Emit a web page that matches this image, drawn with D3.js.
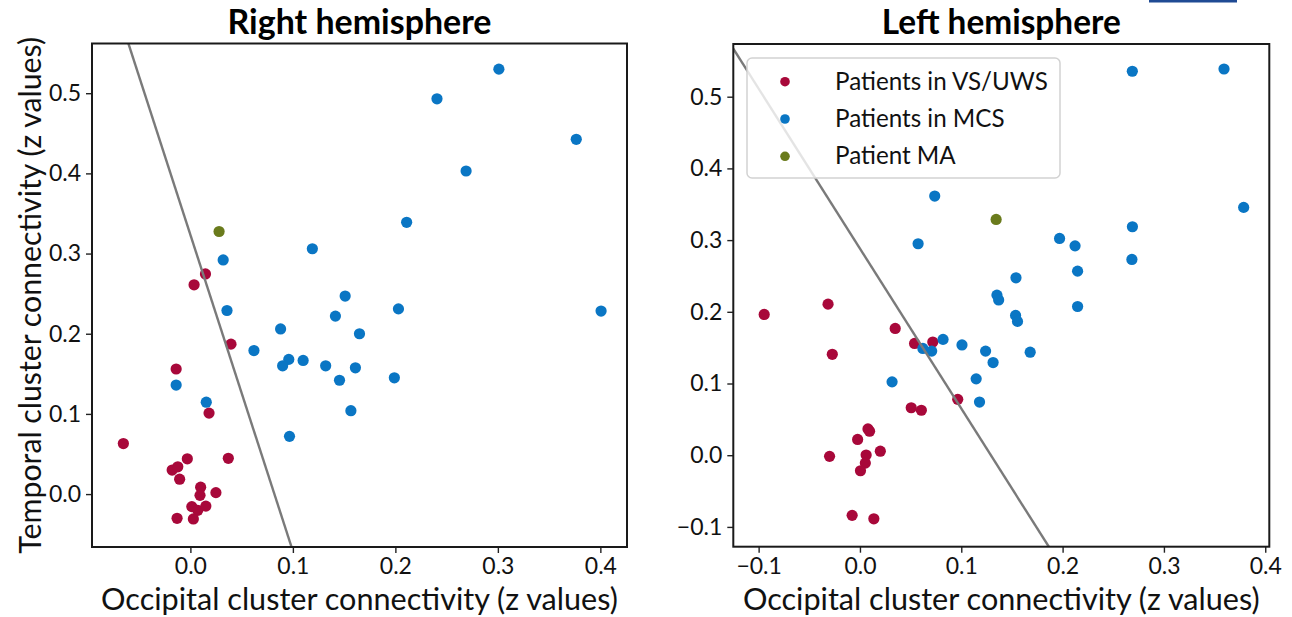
<!DOCTYPE html>
<html>
<head>
<meta charset="utf-8">
<script src="https://cdn.jsdelivr.net/npm/d3@7"></script>
<style>
  html, body { margin: 0; padding: 0; background: #fff; }
  svg { display: block; font-family: Lato, "Open Sans", sans-serif; }
</style>
</head>
<body>
<svg width="1292" height="617"></svg>
<script>
// Right hemisphere (left panel): [occipital, temporal]
const rightVS = [
  [0.0147, 0.2746], [0.0036, 0.261], [0.0396, 0.187], [-0.0139, 0.156], [0.0182, 0.101],
  [-0.0654, 0.063], [-0.003, 0.044], [0.037, 0.0446], [-0.0178, 0.030], [-0.0123, 0.034],
  [-0.0105, 0.0186], [0.0100, 0.0086], [0.0094, -0.0016], [0.0249, 0.0018], [0.0014, -0.0156],
  [0.0072, -0.0202], [0.0151, -0.015], [-0.0130, -0.0302], [0.0029, -0.031]
];
const rightMCS = [
  [0.301, 0.530], [0.2406, 0.493], [0.3765, 0.4425], [0.269, 0.403], [0.211, 0.339],
  [0.119, 0.306], [0.032, 0.292], [0.151, 0.247], [0.0357, 0.229], [0.1415, 0.222],
  [0.203, 0.231], [0.4007, 0.2283], [0.088, 0.206], [0.165, 0.200], [0.062, 0.179],
  [0.096, 0.168], [0.090, 0.160], [0.110, 0.1667], [0.132, 0.160], [0.161, 0.1575],
  [0.1455, 0.142], [0.199, 0.145], [0.1566, 0.104], [0.0967, 0.072], [-0.0139, 0.136],
  [0.0155, 0.1146]
];
const rightMA = [[0.028, 0.3275]];
const rightBoundary = [[-0.0606, 0.5625], [0.0987, -0.066]];

// Left hemisphere (right panel)
const leftVS = [
  [-0.0945, 0.1963], [-0.0315, 0.2107], [0.0348, 0.1768], [0.0539, 0.1559], [0.0719, 0.1578],
  [0.0965, 0.0779], [-0.0273, 0.1407], [0.0506, 0.0662], [0.0606, 0.0627], [0.0079, 0.0366],
  [0.0095, 0.0334], [-0.0023, 0.022], [0.0201, 0.0056], [0.0061, 0.0002], [0.0053, -0.011],
  [0.0005, -0.0217], [-0.0300, -0.0016], [-0.0077, -0.0839], [0.0137, -0.0887]
];
const leftMCS = [
  [0.2688, 0.5355], [0.3593, 0.5386], [0.0738, 0.3614], [0.3787, 0.3456], [0.0574, 0.2949],
  [0.2689, 0.3186], [0.197, 0.3023], [0.2123, 0.292], [0.2684, 0.273], [0.2148, 0.2567],
  [0.154, 0.2474], [0.1352, 0.2233], [0.1369, 0.2165], [0.2148, 0.2074], [0.1536, 0.1950],
  [0.1555, 0.1866], [0.0621, 0.1489], [0.0708, 0.1452], [0.0820, 0.1615], [0.1007, 0.1538],
  [0.1240, 0.1452], [0.1314, 0.1292], [0.168, 0.1437], [0.1147, 0.1065], [0.1180, 0.0741],
  [0.0317, 0.1023]
];
const leftMA = [[0.1344, 0.3288]];
const leftBoundary = [[-0.125, 0.567], [0.1864, -0.1276]];

const groupNames = ['Patients in VS/UWS', 'Patients in MCS', 'Patient MA'];
const groupColors = ['#a8083a', '#0a76c4', '#6a7b1c'];
const xTicks = [[0.0, 0.1, 0.2, 0.3, 0.4], [-0.1, 0.0, 0.1, 0.2, 0.3, 0.4]];
const yTicks = [[0.0, 0.1, 0.2, 0.3, 0.4, 0.5], [-0.1, 0.0, 0.1, 0.2, 0.3, 0.4, 0.5]];
const titles = ['Right hemisphere', 'Left hemisphere'];
const xLabel = 'Occipital cluster connectivity (z values)';
const yLabel = 'Temporal cluster connectivity (z values)';

const svg = d3.select('svg');

// fit a text node to a measured width by scaling font size
function fitWidth(text, width) {
  const len = text.node().getComputedTextLength();
  const fs = parseFloat(text.attr('font-size'));
  text.attr('font-size', fs * width / len);
  return fs * width / len;
}

function fmt(v) { return d3.format('.1f')(v).replace('-', '\u2212'); }

const panels = [
  { box: [92, 43.5, 627, 547], xd: [-0.096, 0.426], yd: [-0.066, 0.562],
    groups: [rightVS, rightMCS, rightMA], line: rightBoundary,
    title: titles[0], titleW: 264, ylab: true, legend: false },
  { box: [733.3, 44, 1269.3, 546.7], xd: [-0.125, 0.404], yd: [-0.1276, 0.5735],
    groups: [leftVS, leftMCS, leftMA], line: leftBoundary,
    title: titles[1], titleW: 239, ylab: false, legend: true },
];

panels.forEach((p, i) => {
  const [x0, y0, x1, y1] = p.box;
  const x = d3.scaleLinear().domain(p.xd).range([x0, x1]);
  const y = d3.scaleLinear().domain(p.yd).range([y1, y0]);
  const g = svg.append('g');
  const clipId = 'clip' + i;
  svg.append('clipPath').attr('id', clipId).append('rect')
    .attr('x', x0).attr('y', y0).attr('width', x1 - x0).attr('height', y1 - y0);

  // axes
  const xAxis = g.append('g').attr('transform', 'translate(0,' + y1 + ')')
    .call(d3.axisBottom(x).tickValues(xTicks[i]).tickFormat(fmt).tickSize(6).tickPadding(5));
  const yAxis = g.append('g').attr('transform', 'translate(' + x0 + ',0)')
    .call(d3.axisLeft(y).tickValues(yTicks[i]).tickFormat(fmt).tickSize(6).tickPadding(5));
  [xAxis, yAxis].forEach(a => {
    a.select('.domain').remove();
    a.selectAll('line').attr('stroke', '#222').attr('stroke-width', 1.4);
    a.selectAll('text').attr('font-size', 23).attr('fill', '#111')
      .attr('font-family', 'Lato, sans-serif');
  });

  const plot = g.append('g').attr('clip-path', 'url(#' + clipId + ')');
  p.groups.forEach((pts, k) => {
    plot.append('g').selectAll('circle').data(pts).join('circle')
      .attr('cx', d => x(d[0])).attr('cy', d => y(d[1]))
      .attr('r', 5.6).attr('fill', groupColors[k]);
  });
  plot.append('path')
    .attr('d', d3.line().x(d => x(d[0])).y(d => y(d[1]))(p.line))
    .attr('stroke', '#7a7a7a').attr('stroke-width', 2.4).attr('fill', 'none');

  g.append('rect').attr('x', x0).attr('y', y0)
    .attr('width', x1 - x0).attr('height', y1 - y0)
    .attr('fill', 'none').attr('stroke', '#1a1a1a').attr('stroke-width', 2);

  const t = g.append('text').attr('x', (x0 + x1) / 2).attr('y', 34)
    .attr('text-anchor', 'middle').attr('font-weight', 'bold')
    .attr('font-size', 28).attr('fill', '#000').text(p.title);
  fitWidth(t, p.titleW);

  const xl = g.append('text').attr('x', (x0 + x1) / 2).attr('y', 610)
    .attr('text-anchor', 'middle').attr('font-size', 28).attr('fill', '#111').text(xLabel);
  fitWidth(xl, 517);

  if (p.ylab) {
    const yl = g.append('text')
      .attr('transform', 'translate(41,' + ((y0 + y1) / 2) + ') rotate(-90)')
      .attr('text-anchor', 'middle').attr('font-size', 28).attr('fill', '#111').text(yLabel);
    fitWidth(yl, 517);
  }

  if (p.legend) {
    const lg = g.append('g');
    lg.append('rect').attr('x', 747).attr('y', 58).attr('width', 313).attr('height', 120)
      .attr('rx', 5).attr('fill', '#fff').attr('fill-opacity', 0.8)
      .attr('stroke', '#d2d2d2').attr('stroke-width', 1.5);
    const rows = lg.selectAll('g.row').data(groupNames).join('g').attr('class', 'row')
      .attr('transform', (d, k) => 'translate(0,' + (81.7 + k * 37.3) + ')');
    rows.append('circle').attr('cx', 785).attr('cy', 0).attr('r', 4.8)
      .attr('fill', (d, k) => groupColors[k]);
    const texts = rows.append('text').attr('x', 835).attr('y', 8)
      .attr('font-size', 26).attr('fill', '#111').text(d => d);
    const fs = fitWidth(d3.select(texts.nodes()[0]), 213);
    texts.attr('font-size', fs);
  }
});

// small blue mark at the top edge of the source image
svg.append('rect').attr('x', 1149).attr('y', 0).attr('width', 88).attr('height', 2.5)
  .attr('fill', '#1f4a94');
</script>
</body>
</html>
